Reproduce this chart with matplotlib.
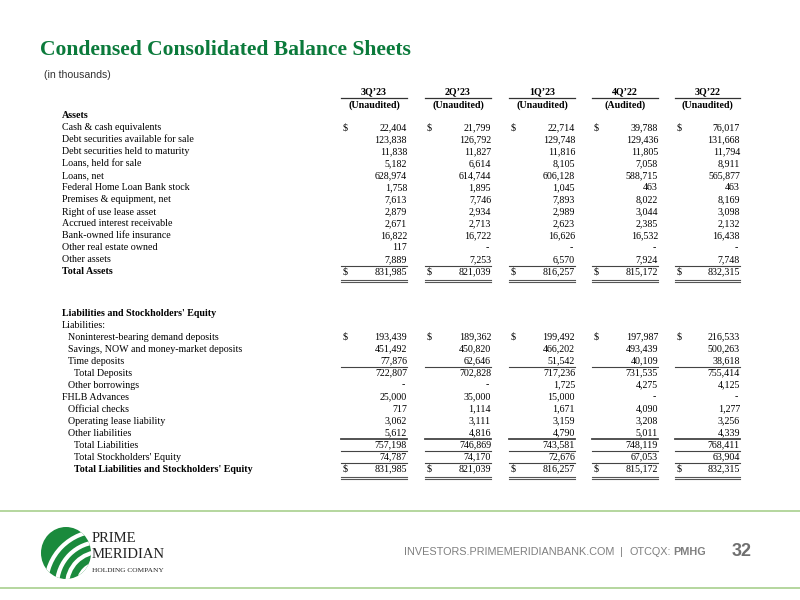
import matplotlib
matplotlib.use("Agg")
import matplotlib.pyplot as plt
from matplotlib import patches

# Column headers
periods = ["3Q\u201923", "2Q\u201923", "1Q\u201923", "4Q\u201922", "3Q\u201922"]
audit_status = ["(Unaudited)", "(Unaudited)", "(Unaudited)", "(Audited)", "(Unaudited)"]

# Assets (in thousands), None means "-"
cash = [22404, 21799, 22714, 39788, 76017]
debt_afs = [123838, 126792, 129748, 129436, 131668]
debt_htm = [11838, 11827, 11816, 11805, 11794]
loans_hfs = [5182, 6614, 8105, 7058, 8911]
loans_net = [628974, 614744, 606128, 588715, 565877]
fhlb_stock = [1758, 1895, 1045, 463, 463]
premises = [7613, 7746, 7893, 8022, 8169]
rou_asset = [2879, 2934, 2989, 3044, 3098]
accrued_int = [2671, 2713, 2623, 2385, 2132]
boli = [16822, 16722, 16626, 16532, 16438]
oreo = [117, None, None, None, None]
other_assets = [7889, 7253, 6570, 7924, 7748]
total_assets = [831985, 821039, 816257, 815172, 832315]

# Liabilities and equity
nonint_dep = [193439, 189362, 199492, 197987, 216533]
savings_dep = [451492, 450820, 466202, 493439, 500263]
time_dep = [77876, 62646, 51542, 40109, 38618]
total_dep = [722807, 702828, 717236, 731535, 755414]
other_borrow = [None, None, 1725, 4275, 4125]
fhlb_adv = [25000, 35000, 15000, None, None]
official_checks = [717, 1114, 1671, 4090, 1277]
lease_liab = [3062, 3111, 3159, 3208, 3256]
other_liab = [5612, 4816, 4790, 5011, 4339]
total_liab = [757198, 746869, 743581, 748119, 768411]
total_equity = [74787, 74170, 72676, 67053, 63904]
total_liab_equity = [831985, 821039, 816257, 815172, 832315]

# layout: (label, values, indent, bold, dollar sign, rule below)
asset_rows = [
    ("Assets", None, 0, True, False, None),
    ("Cash & cash equivalents", cash, 0, False, True, None),
    ("Debt securities available for sale", debt_afs, 0, False, False, None),
    ("Debt securities held to maturity", debt_htm, 0, False, False, None),
    ("Loans, held for sale", loans_hfs, 0, False, False, None),
    ("Loans, net", loans_net, 0, False, False, None),
    ("Federal Home Loan Bank stock", fhlb_stock, 0, False, False, None),
    ("Premises & equipment, net", premises, 0, False, False, None),
    ("Right of use lease asset", rou_asset, 0, False, False, None),
    ("Accrued interest receivable", accrued_int, 0, False, False, None),
    ("Bank-owned life insurance", boli, 0, False, False, None),
    ("Other real estate owned", oreo, 0, False, False, None),
    ("Other assets", other_assets, 0, False, False, "single"),
    ("Total Assets", total_assets, 0, True, True, "double"),
]
liab_rows = [
    ("Liabilities and Stockholders' Equity", None, 0, True, False, None),
    ("Liabilities:", None, 0, False, False, None),
    ("Noninterest-bearing demand deposits", nonint_dep, 6, False, True, None),
    ("Savings, NOW and money-market deposits", savings_dep, 6, False, False, None),
    ("Time deposits", time_dep, 6, False, False, "single"),
    ("Total Deposits", total_dep, 12, False, False, None),
    ("Other borrowings", other_borrow, 6, False, False, None),
    ("FHLB Advances", fhlb_adv, 0, False, False, None),
    ("Official checks", official_checks, 6, False, False, None),
    ("Operating lease liability", lease_liab, 6, False, False, None),
    ("Other liabilities", other_liab, 6, False, False, "thick"),
    ("Total Liabilities", total_liab, 12, False, False, "single"),
    ("Total Stockholders' Equity", total_equity, 12, False, False, "single"),
    ("Total Liabilities and Stockholders' Equity", total_liab_equity, 12, True, True, "double"),
]

fig = plt.figure(figsize=(8, 6), dpi=100)
ax = fig.add_axes([0, 0, 1, 1])
ax.set_xlim(0, 800)
ax.set_ylim(600, 0)
ax.axis("off")

serif = "Liberation Serif"
sans = ["Liberation Sans", "DejaVu Sans"]
fs = 7.2
label_x = 62
dollar_x = [343, 427, 511, 594, 677]
right_x = [407, 491, 575, 658, 740]
col_left = [341, 425, 509, 592, 675]

# title
ax.text(40, 50, "Condensed Consolidated Balance Sheets", fontsize=15.6,
        fontweight="bold", family=serif, color="#0b7a3b", va="center")
ax.text(44, 75, "(in thousands)", fontsize=7.6, family=sans, color="#333333", va="center")

# column headers
for i, p in enumerate(periods):
    cx = (col_left[i] + right_x[i]) / 2
    ax.text(cx, 92, p, fontsize=fs, fontweight="bold", family=serif, ha="center", va="center")
    ax.plot([col_left[i], right_x[i]], [98, 98], color="#333333", lw=0.9)
    ax.text(cx, 105, audit_status[i], fontsize=fs, fontweight="bold", family=serif,
            ha="center", va="center")


def fmt(v):
    return "-" if v is None else f"{v:,}"


def draw_rows(rows, y0, step=12.0):
    for k, (label, vals, indent, bold, dollar, rule) in enumerate(rows):
        y = y0 + k * step
        ax.text(label_x + indent, y, label, fontsize=fs, family=serif,
                fontweight="bold" if bold else "normal", va="center")
        if vals is None:
            continue
        for i, v in enumerate(vals):
            xr = right_x[i] - (2 if v is None else 0)
            ax.text(xr, y, fmt(v), fontsize=fs, family=serif, ha="right", va="center")
            if dollar:
                ax.text(dollar_x[i], y, "$", fontsize=fs, family=serif, ha="left", va="center")
            if rule == "single":
                ax.plot([col_left[i], right_x[i]], [y + 6, y + 6], color="#444444", lw=0.8)
            elif rule == "thick":
                ax.plot([col_left[i], right_x[i]], [y + 6, y + 6], color="#444444", lw=1.3)
            elif rule == "double":
                ax.plot([col_left[i], right_x[i]], [y + 7.5, y + 7.5], color="#555555", lw=0.8)
                ax.plot([col_left[i], right_x[i]], [y + 9.5, y + 9.5], color="#555555", lw=0.8)


draw_rows(asset_rows, 116)
draw_rows(liab_rows, 313)

# footer rules
ax.plot([0, 800], [511, 511], color="#a8d08d", lw=1.2)
ax.plot([0, 800], [588, 588], color="#a8d08d", lw=1.2)

# logo
logo_green = "#1a8a3c"
oval = patches.Ellipse((66, 553), 50, 52, facecolor=logo_green, edgecolor="none")
ax.add_patch(oval)
hole = patches.Circle((100, 585), 24, facecolor="white", edgecolor="none")
ax.add_patch(hole)
hole.set_clip_path(oval)
for r in [33, 43, 54]:
    arc = patches.Circle((100, 585), r, facecolor="none", edgecolor="white", lw=3)
    ax.add_patch(arc)
    arc.set_clip_path(oval)

ax.text(92, 538, "PRIME", fontsize=10.5, family=serif, color="#222222", va="center")
ax.text(92, 554, "MERIDIAN", fontsize=10.5, family=serif, color="#222222", va="center")
ax.text(92, 570, "HOLDING COMPANY", fontsize=5.3, family=serif, color="#222222", va="center")

# footer text, placed one piece after another
foot_grey = "#7f7f7f"
renderer = fig.canvas.get_renderer()
pieces = [("INVESTORS.PRIMEMERIDIANBANK.COM", "normal", 0),
          ("|", "normal", 6),
          ("OTCQX:", "normal", 6),
          ("PMHG", "bold", 3)]
x = 404
for txt, weight, gap in pieces:
    x += gap
    t = ax.text(x, 552, txt, fontsize=7.8, family=sans, color=foot_grey, va="center",
                fontweight=weight)
    x = t.get_window_extent(renderer).x1
ax.text(732, 551, "32", fontsize=13, family=sans, color="#6f6f6f", va="center",
        fontweight="bold")

fig.savefig("out.png", dpi=100)
